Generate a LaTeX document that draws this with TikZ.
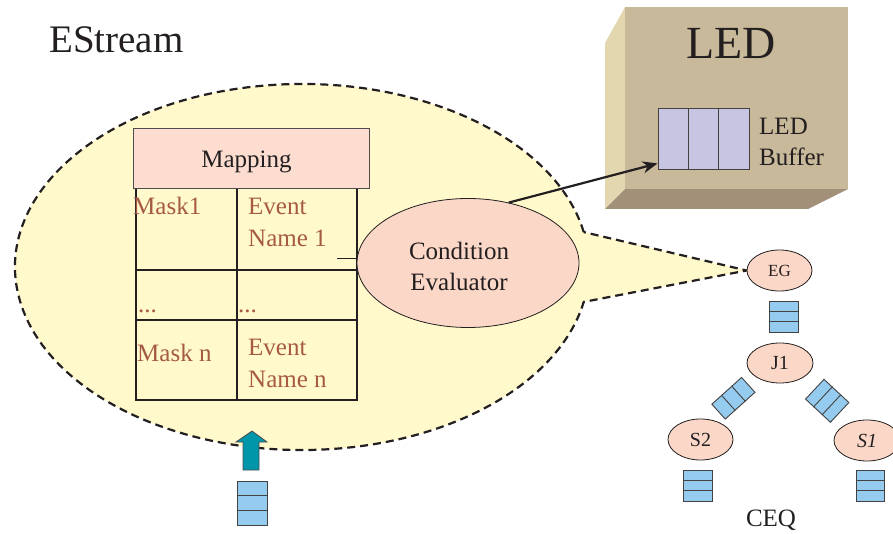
\documentclass[tikz,border=0pt]{standalone}
\usepackage{fontspec}
\setmainfont{Liberation Serif}
\usetikzlibrary{shapes.geometric,arrows.meta,calc,backgrounds}
\definecolor{yel}{HTML}{FFF9CC}
\definecolor{pinkell}{HTML}{FBD7C7}
\definecolor{mapfill}{HTML}{FCDDD0}
\definecolor{qblue}{HTML}{94CBEE}
\definecolor{ledbuf}{HTML}{C7C5E2}
\definecolor{teal2}{HTML}{0096AA}
\definecolor{brownt}{HTML}{A65A45}
\definecolor{boxfront}{HTML}{C8B99A}
\definecolor{boxleft}{HTML}{E3D7B0}
\definecolor{boxbottom}{HTML}{A39079}
\definecolor{ink}{HTML}{231F20}
\tikzset{
  ell/.style={ellipse, draw=ink, line width=0.8pt, fill=pinkell, inner sep=0pt, text=ink},
  qbox/.style={rectangle, draw=ink!85, line width=0.9pt, fill=qblue, inner sep=0pt},
  qline/.style={draw=ink!85, line width=0.9pt},
  grid/.style={draw=ink, line width=1.4pt},
  cell/.style={text=brownt, font=\fontsize{25}{32}\selectfont, inner sep=0pt, align=left},
  big/.style={text=ink, inner sep=0pt},
  calloutline/.style={draw=ink, line width=2.2pt, dash pattern=on 8pt off 5pt},
}
% queue with rows stacked vertically
\newcommand\vqueue[5]{%
  \node[qbox, minimum width=#3, minimum height=#4, rotate=#5] (#1) at (#2) {};
  \draw[qline] ($(#1.north west)!1/3!(#1.south west)$) -- ($(#1.north east)!1/3!(#1.south east)$);
  \draw[qline] ($(#1.north west)!2/3!(#1.south west)$) -- ($(#1.north east)!2/3!(#1.south east)$);
}
% queue with cells side by side
\newcommand\hqueue[6]{%
  \node[qbox, fill=#6, minimum width=#3, minimum height=#4, rotate=#5] (#1) at (#2) {};
  \draw[qline] ($(#1.north west)!1/3!(#1.north east)$) -- ($(#1.south west)!1/3!(#1.south east)$);
  \draw[qline] ($(#1.north west)!2/3!(#1.north east)$) -- ($(#1.south west)!2/3!(#1.south east)$);
}
\begin{document}
\begin{tikzpicture}[x=1pt, y=1pt]
\useasboundingbox (0,0) rectangle (893,533);

% title
\node[big, anchor=base west, font=\fontsize{39}{45}\selectfont] (title) at (49,480) {EStream};

% LED box
\fill[boxleft] (605,490) -- (625,526) -- (625,344) -- (605,324) -- cycle;
\fill[boxbottom] (605,324) -- (625,344) -- (848,344) -- (808,324) -- cycle;
\node[rectangle, fill=boxfront, inner sep=0pt, minimum width=223pt, minimum height=182pt] (ledbox) at (736.5,435) {};
\node[big, anchor=base, font=\fontsize{46}{52}\selectfont] (ledtitle) at (731,474) {LED};
\hqueue{buf}{703.5,394.5}{91pt}{61pt}{0}{ledbuf}
\node[big, anchor=base west, align=left, font=\fontsize{25}{31}\selectfont] (buftext) at (759,367) {LED\\Buffer};

% Mapping table
\node[rectangle, draw=ink!80, line width=1pt, fill=mapfill, minimum width=236pt, minimum height=60pt, inner sep=0pt] (map) at (251,374) {};
\node[big, anchor=base, font=\fontsize{25}{30}\selectfont] (maptext) at (246.5,365) {Mapping};
\draw[grid] (136,344) -- (136,133) -- (357,133) -- (357,344);
\draw[grid] (237,344) -- (237,133);
\draw[grid] (136,263) -- (357,263);
\draw[grid] (136,213) -- (357,213);
\node[cell, anchor=base west] (m1) at (133,318) {Mask1};
\node[cell, anchor=base west] (e1) at (248,286) {Event\\Name 1};
\node[cell, anchor=base west] (d1) at (138,220) {...};
\node[cell, anchor=base west] (d2) at (238,220) {...};
\node[cell, anchor=base west] (mn) at (137,172) {Mask n};
\node[cell, anchor=base west] (en) at (248,146) {Event\\Name n};

% Condition evaluator
\node[ell, minimum width=222pt, minimum height=129pt,
  label={[xshift=-9pt, yshift=-3pt, align=center, text=ink, font=\fontsize{25}{31}\selectfont]center:Condition\\Evaluator}] (ce) at (468,270) {};
\coordinate (tick) at (337,274);
\draw[line width=1pt, draw=ink] (tick) -- (ce.west |- tick);

% CEQ tree
\node[ell, minimum width=65pt, minimum height=41pt, font=\fontsize{17}{20}\selectfont] (EG) at (779.5,262.5) {EG};
\vqueue{qEG}{783.5,216.5}{29pt}{31pt}{0}
\node[ell, minimum width=66pt, minimum height=40pt, font=\fontsize{20}{24}\selectfont] (J1) at (780,170) {J1};
\hqueue{qL}{733.4,134.75}{40pt}{20pt}{42}{qblue}
\hqueue{qR}{827.2,132.2}{34pt}{27pt}{-43}{qblue}
\node[ell, minimum width=65pt, minimum height=41pt, font=\fontsize{20}{24}\selectfont] (S2) at (700.5,93.5) {S2};
\node[ell, minimum width=66pt, minimum height=41pt, font=\fontsize{20}{24}\selectfont\itshape] (S1) at (867,92.5) {S1};
\vqueue{qS2}{697.5,47.5}{29pt}{31pt}{0}
\vqueue{qS1}{870,47.5}{28pt}{31pt}{0}
\node[big, anchor=base, font=\fontsize{25}{30}\selectfont] (ceq) at (771,7) {CEQ};

% input queue and arrow
\vqueue{qIn}{252,30}{30pt}{44pt}{0}
\coordinate (arrbase) at (251,63);
\draw[draw=ink!80, line width=0.8pt, fill=teal2] (arrbase) ++(-8,0) -- ++(16,0) -- ++(0,28) -- ++(8,0) -- (252,102) -- (236,91) -- (243,91) -- cycle;

% callout background
\begin{scope}[on background layer]
\path[fill=yel, calloutline] ($(302,266)+(11:287pt and 183pt)$)
  arc[start angle=11, end angle=349, x radius=287pt, y radius=183pt] -- (EG.west) -- cycle;
\end{scope}

% arrow to LED buffer
\draw[draw=ink, line width=2.2pt, -{Stealth[length=15pt, width=12pt]}] (ce.56) -- ($(buf.south west)+(0,6)$);
\end{tikzpicture}
\end{document}
